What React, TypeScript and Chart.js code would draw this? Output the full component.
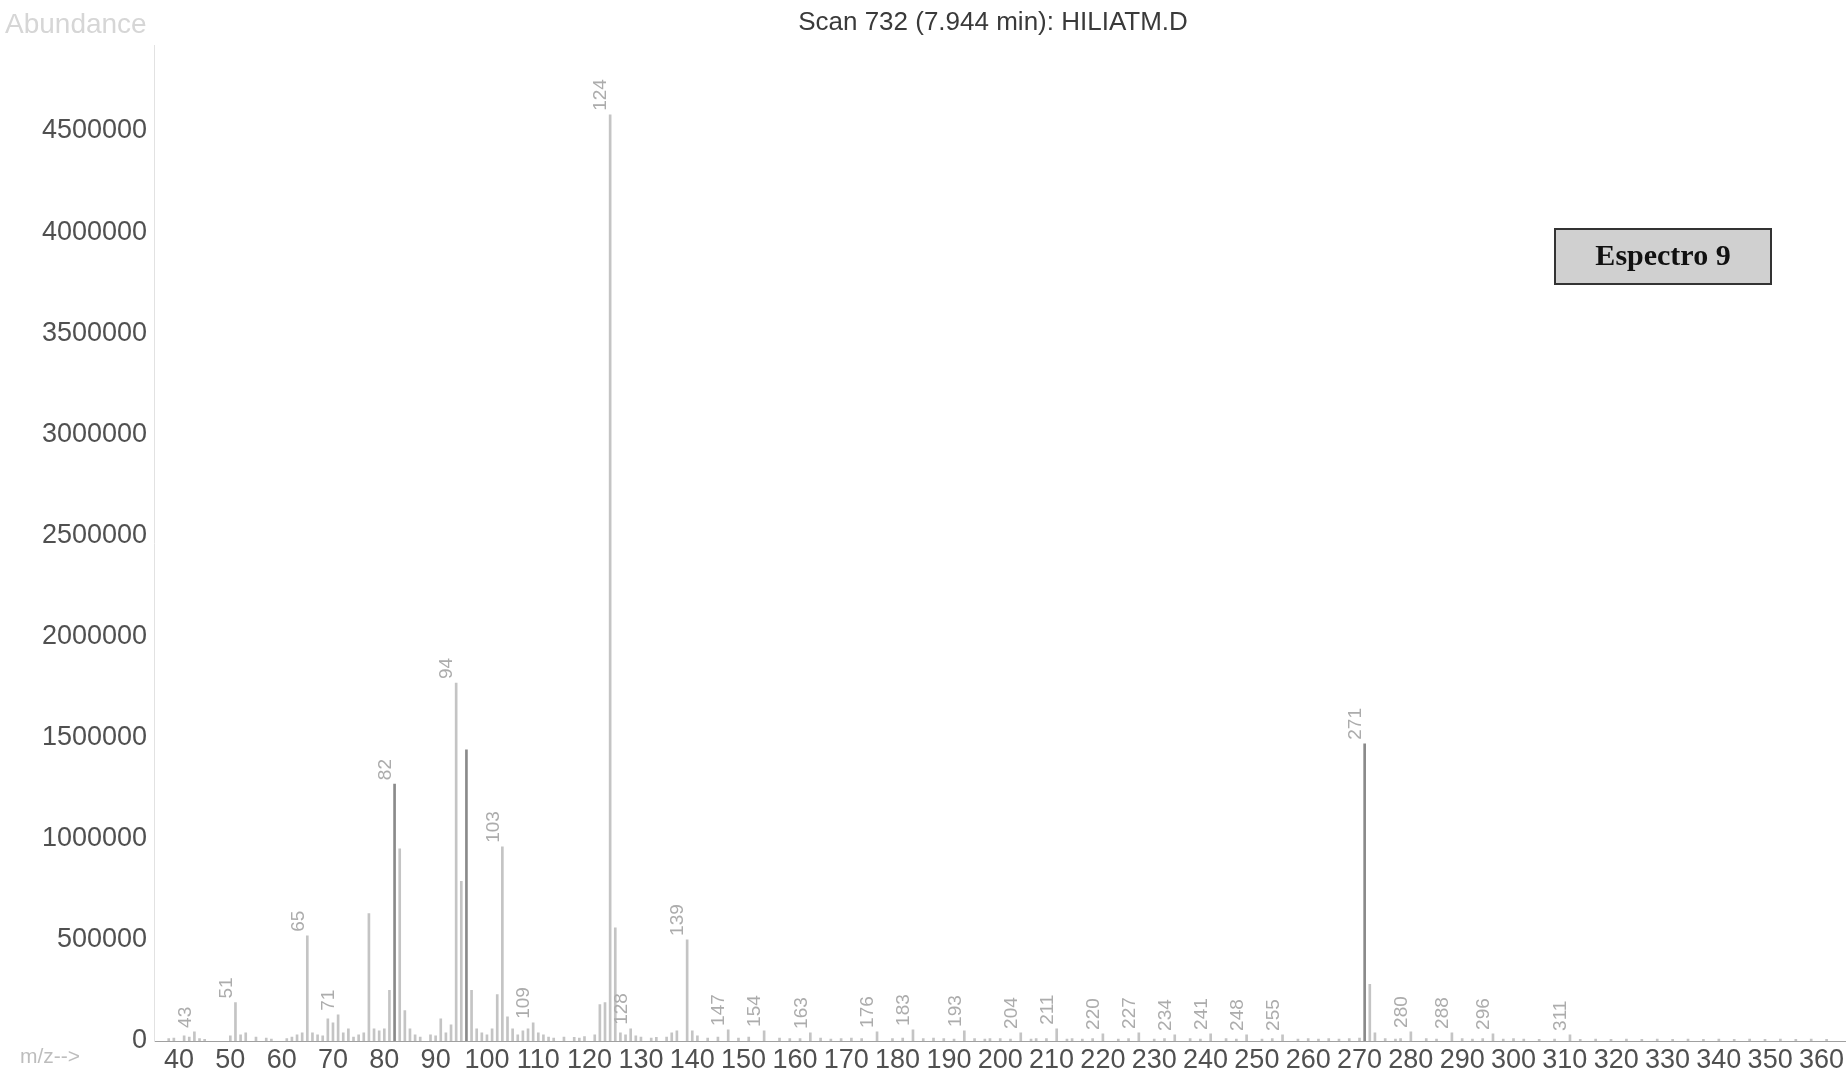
import React, { useEffect, useRef } from "react";
import { Chart, registerables } from "chart.js";

Chart.register(...registerables);

// m/z values and abundances (rows aligned 10 by 10)
const peakMz = [
  38, 39, 41, 42, 43, 44, 45, 50, 51, 52,
  53, 55, 57, 58, 61, 62, 63, 64, 65, 66,
  67, 68, 69, 70, 71, 72, 73, 74, 75, 76,
  77, 78, 79, 80, 81, 82, 83, 84, 85, 86,
  87, 89, 90, 91, 92, 93, 94, 95, 96, 97,
  98, 99, 100, 101, 102, 103, 104, 105, 106, 107,
  108, 109, 110, 111, 112, 113, 115, 117, 118, 119,
  121, 122, 123, 124, 125, 126, 127, 128, 129, 130,
  132, 133, 135, 136, 137, 139, 140, 141, 143, 145,
  147, 149, 151, 154, 157, 159, 161, 163, 165, 167,
  169, 171, 173, 176, 179, 181, 183, 185, 187, 189,
  191, 193, 195, 197, 198, 200, 202, 204, 206, 207,
  209, 211, 213, 214, 216, 218, 220, 223, 225, 227,
  230, 232, 234, 237, 239, 241, 244, 246, 248, 251,
  253, 255, 258, 260, 262, 264, 266, 268, 270, 271,
  272, 273, 275, 277, 278, 280, 283, 285, 288, 290,
  292, 294, 296, 298, 300, 302, 305, 308, 311, 313,
  316, 319, 322, 325, 328, 331, 334, 337, 340, 343,
  346, 349, 352, 355, 358, 361,
];
const peakAbundance = [
  12000, 15000, 25000, 20000, 45000, 12000, 8000, 25000, 190000, 30000,
  40000, 20000, 15000, 10000, 12000, 20000, 30000, 40000, 520000, 40000,
  30000, 25000, 110000, 90000, 130000, 40000, 60000, 20000, 30000, 40000,
  630000, 60000, 50000, 60000, 250000, 1270000, 950000, 150000, 60000, 30000,
  20000, 30000, 25000, 110000, 40000, 80000, 1770000, 790000, 1440000, 250000,
  60000, 40000, 30000, 60000, 230000, 960000, 120000, 60000, 30000, 50000,
  60000, 90000, 40000, 30000, 20000, 15000, 20000, 18000, 15000, 22000,
  30000, 180000, 190000, 4580000, 560000, 40000, 30000, 60000, 25000, 20000,
  15000, 18000, 20000, 40000, 50000, 500000, 50000, 25000, 15000, 20000,
  55000, 15000, 20000, 50000, 15000, 12000, 12000, 40000, 15000, 10000,
  12000, 14000, 12000, 45000, 12000, 14000, 55000, 12000, 14000, 12000,
  10000, 50000, 12000, 10000, 12000, 12000, 10000, 40000, 10000, 12000,
  12000, 60000, 10000, 12000, 10000, 12000, 35000, 10000, 12000, 40000,
  10000, 12000, 30000, 12000, 10000, 35000, 12000, 10000, 30000, 10000,
  12000, 30000, 10000, 12000, 10000, 12000, 10000, 12000, 14000, 1470000,
  280000, 40000, 12000, 10000, 12000, 45000, 12000, 10000, 40000, 12000,
  10000, 12000, 35000, 10000, 12000, 10000, 8000, 10000, 30000, 8000,
  10000, 8000, 10000, 8000, 9000, 8000, 10000, 8000, 9000, 8000,
  9000, 8000, 9000, 8000, 9000, 8000,
];
// peaks printed with their m/z label
const labeledMz = [
  43, 51, 65, 71, 82, 94, 103, 109, 124, 128, 139, 147, 154, 163, 176, 183, 193, 204,
  211, 220, 227, 234, 241, 248, 255, 271, 280, 288, 296, 311,
];
// peaks printed darker in the scan
const darkMz = [96, 82, 271];

const xTickValues = [40, 50, 60, 70, 80, 90, 100, 110, 120, 130, 140, 150, 160, 170, 180, 190, 200, 210, 220, 230, 240, 250, 260, 270, 280, 290, 300, 310, 320, 330, 340, 350, 360];
const yTickValues = [0, 500000, 1000000, 1500000, 2000000, 2500000, 3000000, 3500000, 4000000, 4500000];

const titleText = "Scan 732 (7.944 min): HILIATM.D";
const yAxisName = "Abundance";
const xAxisName = "m/z-->";
const boxText = "Espectro 9";

const decorPlugin = {
  id: "decor",
  afterDatasetsDraw(chart: any) {
    const { ctx } = chart;
    const xs = chart.scales.x;
    const ys = chart.scales.y;
    ctx.save();
    // peak labels
    ctx.fillStyle = "#acacac";
    ctx.font = "19px 'Liberation Sans', Arial, sans-serif";
    ctx.textAlign = "left";
    ctx.textBaseline = "middle";
    labeledMz.forEach((mz) => {
      const i = peakMz.indexOf(mz);
      if (i < 0) return;
      const px = xs.getPixelForValue(mz);
      const py = ys.getPixelForValue(peakAbundance[i]);
      ctx.save();
      ctx.translate(px - 9, py - 4);
      ctx.rotate(-Math.PI / 2);
      ctx.fillText(String(mz), 0, 0);
      ctx.restore();
    });
    ctx.restore();
  },
  afterDraw(chart: any) {
    const { ctx } = chart;
    ctx.save();
    // title
    ctx.fillStyle = "#3a3a3a";
    ctx.font = "26px 'Liberation Sans', Arial, sans-serif";
    ctx.textAlign = "center";
    ctx.textBaseline = "middle";
    ctx.fillText(titleText, 993, 23);
    // abundance
    ctx.fillStyle = "#d6d6d6";
    ctx.font = "28px 'Liberation Sans', Arial, sans-serif";
    ctx.textAlign = "left";
    ctx.fillText(yAxisName, 5, 25);
    // m/z
    ctx.fillStyle = "#bdbdbd";
    ctx.font = "21px 'Liberation Sans', Arial, sans-serif";
    ctx.fillText(xAxisName, 20, 1057);
    // box
    const bx = 1555, by = 229, bw = 216, bh = 55;
    ctx.fillStyle = "#d0d0d0";
    ctx.fillRect(bx, by, bw, bh);
    ctx.strokeStyle = "#333";
    ctx.lineWidth = 2;
    ctx.strokeRect(bx, by, bw, bh);
    ctx.fillStyle = "#111";
    ctx.font = "bold 30px 'Liberation Serif', 'Times New Roman', serif";
    ctx.textAlign = "center";
    ctx.fillText(boxText, bx + bw / 2, by + bh / 2 + 1);
    ctx.restore();
  },
};

export default function App() {
  const ref = useRef<HTMLCanvasElement | null>(null);
  useEffect(() => {
    if (!ref.current) return;
    const data = peakMz.map((mz, i) => ({ x: mz, y: peakAbundance[i] }));
    const chart = new Chart(ref.current, {
      type: "bar",
      data: {
        datasets: [
          {
            data,
            backgroundColor: (c: any) =>
              darkMz.includes(c.raw?.x) ? "#8a8a8a" : "#c4c4c4",
            barThickness: 2,
            grouped: false,
          } as any,
        ],
      },
      options: {
        animation: false,
        responsive: false,
        layout: { padding: { top: 45, right: 0, bottom: 0, left: 0 } },
        plugins: { legend: { display: false }, tooltip: { enabled: false }, title: { display: false } },
        scales: {
          x: {
            type: "linear",
            min: 35.13,
            max: 364.67,
            offset: false,
            grid: { display: false, drawTicks: false },
            border: { display: true, color: "#a0a0a0", dash: [7, 4], width: 1 },
            afterBuildTicks: (s: any) => {
              s.ticks = xTickValues.map((v) => ({ value: v }));
            },
            afterFit: (s: any) => {
              s.height = 45;
            },
            ticks: {
              autoSkip: false,
              maxRotation: 0,
              minRotation: 0,
              padding: 3,
              color: "#505050",
              font: { size: 27, family: "'Liberation Sans', Arial, sans-serif" },
            },
          },
          y: {
            type: "linear",
            min: 0,
            max: 4925000,
            grid: { display: false, drawTicks: false },
            border: { display: true, color: "#e2e2e2", width: 1 },
            afterBuildTicks: (s: any) => {
              s.ticks = yTickValues.map((v) => ({ value: v }));
            },
            afterFit: (s: any) => {
              s.width = 154;
            },
            ticks: {
              padding: 7,
              color: "#505050",
              font: { size: 27, family: "'Liberation Sans', Arial, sans-serif" },
              callback: (v: any) => String(v),
            },
          },
        },
      },
      plugins: [decorPlugin],
    });
    return () => chart.destroy();
  }, []);
  return (
    <div style={{ position: "absolute", left: 0, top: 0, width: 1847, height: 1086, background: "#fff" }}>
      <canvas ref={ref} width={1847} height={1086} style={{ display: "block" }} />
    </div>
  );
}
